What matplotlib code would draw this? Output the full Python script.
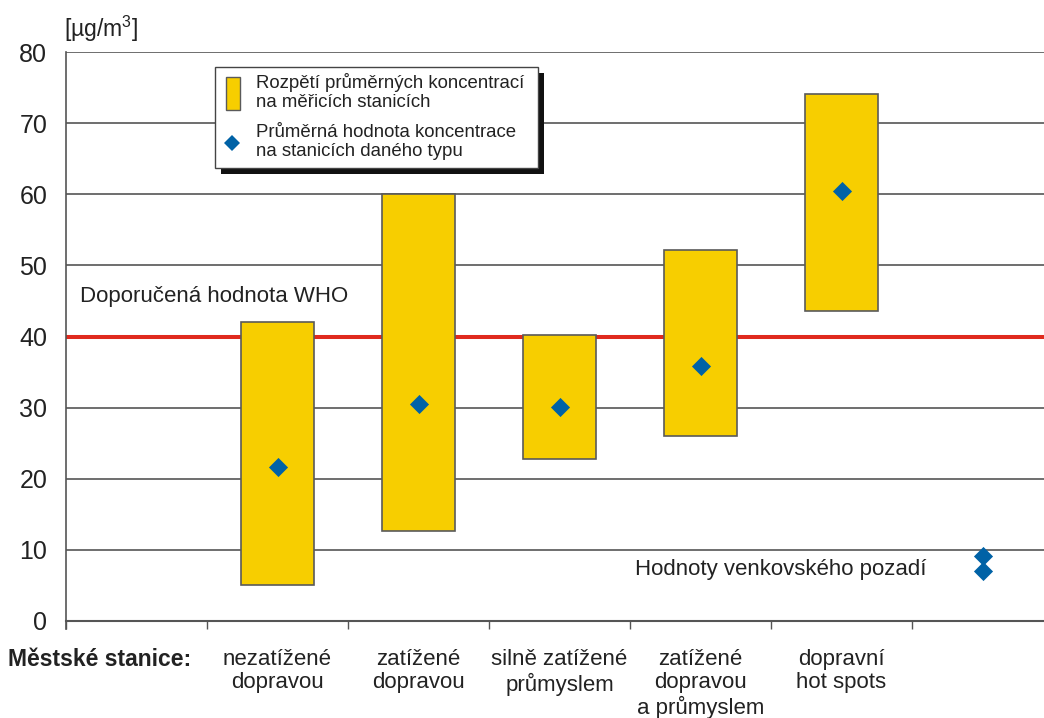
import matplotlib
matplotlib.use("Agg")
import matplotlib.pyplot as plt
from matplotlib.patches import Rectangle
from matplotlib.lines import Line2D
import numpy as np

plt.rcParams['font.family'] = ['Liberation Sans', 'DejaVu Sans']
plt.rcParams['mathtext.fontset'] = 'custom'
plt.rcParams['mathtext.rm'] = 'Liberation Sans'
plt.rcParams['mathtext.it'] = 'Liberation Sans'

# ---- data ----
categories = ["nezatížené\ndopravou", "zatížené\ndopravou", "silně zatížené\nprůmyslem",
              "zatížené\ndopravou\na průmyslem", "dopravní\nhot spots"]
range_low = [5.0, 12.7, 22.8, 26.0, 43.6]
range_high = [42.0, 60.0, 40.2, 52.1, 74.1]
mean_values = [21.6, 30.5, 30.1, 35.9, 60.4]
rural_values = [9.1, 7.1]
who_limit = 40
y_ticks = [0, 10, 20, 30, 40, 50, 60, 70, 80]

W, H = 1044, 718
fig = plt.figure(figsize=(W / 100, H / 100), dpi=100)

def fx(px):
    return px / W

def fy(py):
    return 1 - py / H

ax = fig.add_axes([fx(66), fy(621), fx(1053) - fx(66), fy(52) - fy(621)])
ax.set_xlim(0, 7)
ax.set_ylim(0, 80)

yellow = "#F7CE00"
blue = "#0062A6"
grid_c = "#555555"
txt_c = "#222222"

for v in y_ticks[1:]:
    ax.axhline(v, color=grid_c, lw=1.2, zorder=1)
ax.axhline(who_limit, color="#E02A1E", lw=2.9, zorder=2)

xs = np.arange(len(categories)) + 1.5
ax.bar(xs, np.array(range_high) - np.array(range_low), bottom=range_low, width=0.52,
       color=yellow, edgecolor="#5a5a5a", linewidth=1.2, zorder=3)
ax.scatter(xs, mean_values, marker='D', s=95, color=blue, zorder=4, linewidths=0)
ax.scatter([6.5] * len(rural_values), rural_values, marker='D', s=95, color=blue,
           zorder=4, linewidths=0)

for s in ['top', 'right']:
    ax.spines[s].set_visible(False)
ax.spines['left'].set_color(grid_c)
ax.spines['bottom'].set_color(grid_c)
ax.spines['left'].set_linewidth(1.2)
ax.spines['bottom'].set_linewidth(1.5)
ax.spines['left'].set_bounds(-1.1, 80)

ax.set_yticks(y_ticks)
ax.set_yticklabels([str(v) for v in y_ticks], fontsize=18, color=txt_c)
ax.tick_params(axis='y', length=0, pad=13.5)
ax.set_xticks(np.arange(0, 8))
ax.set_xticklabels([])
ax.tick_params(axis='x', length=6, width=1, color=grid_c, direction='out')

# category labels
for x, lab in zip(xs, categories):
    ax.text(x, -4.0, lab, ha='center', va='top', fontsize=16, color=txt_c,
            linespacing=1.12, transform=ax.transData)
fig.text(fx(8), fy(660), "Městské stanice:", ha='left', va='center', fontsize=16.5,
         fontweight='bold', color=txt_c)

fig.text(fx(64), fy(29), r"[µg/m$^{3}$]", ha='left', va='center', fontsize=16.5, color=txt_c)

ax.text(0.1, 45.6, "Doporučená hodnota WHO", ha='left', va='center', fontsize=16,
        color=txt_c)
ax.text(6.1, 7.2, "Hodnoty venkovského pozadí", ha='right', va='center', fontsize=16,
        color=txt_c)

# legend (manual)
lx0, ly0, lx1, ly1 = 215, 67, 538, 168
fig.add_artist(Rectangle((fx(lx0 + 6), fy(ly1 + 6)), fx(lx1 - lx0), fy(ly0) - fy(ly1),
                         transform=fig.transFigure, facecolor="#111111", edgecolor='none', zorder=10))
fig.add_artist(Rectangle((fx(lx0), fy(ly1)), fx(lx1 - lx0), fy(ly0) - fy(ly1),
                         transform=fig.transFigure, facecolor="white", edgecolor="#444444",
                         lw=1.0, zorder=11))
fig.add_artist(Rectangle((fx(226), fy(110)), fx(14), fy(77) - fy(110), transform=fig.transFigure,
                         facecolor=yellow, edgecolor="#5a5a5a", lw=1.0, zorder=12))
fig.add_artist(Line2D([fx(232)], [fy(143)], marker='D', markersize=8.5, color=blue,
                      markeredgewidth=0, transform=fig.transFigure, zorder=12))
fig.text(fx(256), fy(92), "Rozpětí průměrných koncentrací\nna měřicích stanicích", ha='left',
         va='center', fontsize=13.4, linespacing=1.2, color=txt_c, zorder=13)
fig.text(fx(256), fy(142), "Průměrná hodnota koncentrace\nna stanicích daného typu", ha='left',
         va='center', fontsize=13.4, linespacing=1.2, color=txt_c, zorder=13)

fig.savefig("out.png", dpi=100)
